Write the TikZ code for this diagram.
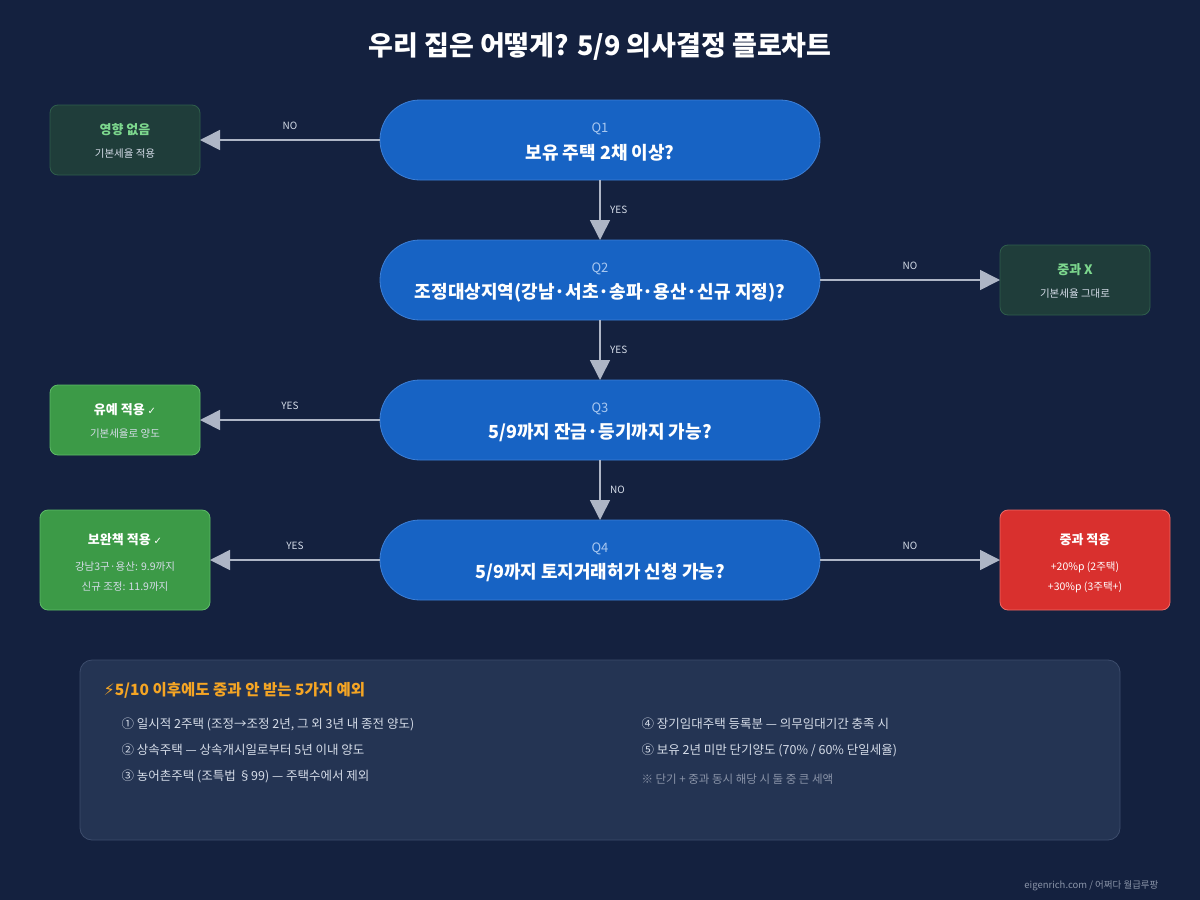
\documentclass[tikz,border=0pt]{standalone}
\usepackage{fontspec}
\setmainfont{Noto Sans CJK KR}
\newfontfamily\symfont{DejaVu Sans}
\usetikzlibrary{arrows.meta}
\definecolor{bgnavy}{HTML}{14213F}
\definecolor{pillblue}{HTML}{1763C4}
\definecolor{pilledge}{HTML}{3D7FD6}
\definecolor{qlabel}{HTML}{A9C8F0}
\definecolor{arrowgray}{HTML}{AEB6C6}
\definecolor{darkgreen}{HTML}{1F3D3A}
\definecolor{darkgreenedge}{HTML}{2F5E4C}
\definecolor{palegreen}{HTML}{7DD88E}
\definecolor{okgreen}{HTML}{3C9A47}
\definecolor{okedge}{HTML}{5DBB67}
\definecolor{alertred}{HTML}{D9302E}
\definecolor{alertedge}{HTML}{EF6A66}
\definecolor{panelfill}{HTML}{243453}
\definecolor{paneledge}{HTML}{3C4C6C}
\definecolor{noteorange}{HTML}{F5A524}
\definecolor{softtext}{HTML}{D5DCE8}
\definecolor{dimtext}{HTML}{8A94A8}

\begin{document}
\begin{tikzpicture}[x=1pt,y=-1pt,
    question/.style = {draw=pilledge, fill=pillblue, rounded corners=40pt, line width=0.8pt},
    flow/.style = {draw=arrowgray, line width=1.6pt, -{Triangle[width=20pt,length=20pt]}},
    tag/.style = {font=\fontsize{10}{12}\selectfont, text=softtext},
    softbox/.style = {draw=darkgreenedge, fill=darkgreen, rounded corners=8pt, line width=0.8pt},
    okbox/.style = {draw=okedge, fill=okgreen, rounded corners=8pt, line width=0.8pt},
    alertbox/.style = {draw=alertedge, fill=alertred, rounded corners=8pt, line width=0.8pt},
    boxhead/.style = {font=\fontsize{13}{15}\selectfont\bfseries, text=white},
    boxline/.style = {font=\fontsize{10.5}{12}\selectfont, text=softtext},
    item/.style = {font=\fontsize{12.5}{14}\selectfont, text=softtext, anchor=west},
  ]
  \fill[bgnavy] (0,0) rectangle (1200,900);
  \useasboundingbox (0,0) rectangle (1200,900);

  \node[font=\fontsize{27}{30}\selectfont\bfseries, text=white] (title) at (600,47) {우리 집은 어떻게? 5/9 의사결정 플로차트};

  % question pills
  \path[question] (380,100) rectangle (820,180);
  \path[question] (380,240) rectangle (820,320);
  \path[question] (380,380) rectangle (820,460);
  \path[question] (380,520) rectangle (820,600);
  \coordinate (q1t) at (600,100); \coordinate (q1b) at (600,180);
  \coordinate (q2t) at (600,240); \coordinate (q2b) at (600,320);
  \coordinate (q3t) at (600,380); \coordinate (q3b) at (600,460);
  \coordinate (q4t) at (600,520);
  \coordinate (q1l) at (380,140); \coordinate (q2r) at (820,280);
  \coordinate (q3l) at (380,420); \coordinate (q4l) at (380,560); \coordinate (q4r) at (820,560);
  \foreach \n/\y/\txt in {Q1/140/{보유 주택 2채 이상?},
                          Q2/280/{조정대상지역(강남·서초·송파·용산·신규 지정)?},
                          Q3/420/{5/9까지 잔금·등기까지 가능?},
                          Q4/560/{5/9까지 토지거래허가 신청 가능?}} {
    \node[font=\fontsize{13}{14}\selectfont, text=qlabel] (\n lab) at (600,\y-11) {\n};
    \node[font=\fontsize{18}{20}\selectfont\bfseries, text=white] (\n txt) at (600,\y+13) {\txt};
  }

  % result boxes
  \path[softbox] (50,105) rectangle (200,175);
  \coordinate (none) at (200,140);
  \node[font=\fontsize{13}{15}\selectfont\bfseries, text=palegreen] (noneh) at (125,130) {영향 없음};
  \node[boxline] (nonel) at (125,154) {기본세율 적용};

  \path[softbox] (1000,245) rectangle (1150,315);
  \coordinate (nox) at (1000,280);
  \node[font=\fontsize{13}{15}\selectfont\bfseries, text=palegreen] (noxh) at (1075,270) {중과 X};
  \node[boxline] (noxl) at (1075,294) {기본세율 그대로};

  \path[okbox] (50,385) rectangle (200,455);
  \coordinate (defer) at (200,420);
  \node[boxhead] (deferh) at (125,410) {유예 적용 {\symfont\mdseries\fontsize{10}{10}\selectfont ✓}};
  \node[boxline] (deferl) at (125,434) {기본세율로 양도};

  \path[okbox] (40,510) rectangle (210,610);
  \coordinate (remedy) at (210,560);
  \node[boxhead] (remedyh) at (125,540) {보완책 적용 {\symfont\mdseries\fontsize{10}{10}\selectfont ✓}};
  \node[boxline] (remedya) at (125,567) {강남3구·용산: 9.9까지};
  \node[boxline] (remedyb) at (125,587) {신규 조정: 11.9까지};

  \path[alertbox] (1000,510) rectangle (1170,610);
  \coordinate (heavy) at (1000,560);
  \node[boxhead] (heavyh) at (1085,540) {중과 적용};
  \node[boxline, text=white] (heavya) at (1085,567) {+20\%p (2주택)};
  \node[boxline, text=white] (heavyb) at (1085,587) {+30\%p (3주택+)};

  % connectors
  \draw[flow] (q1b) -- (q2t) node[tag, midway, right=6pt] {YES};
  \draw[flow] (q2b) -- (q3t) node[tag, midway, right=6pt] {YES};
  \draw[flow] (q3b) -- (q4t) node[tag, midway, right=6pt] {NO};
  \draw[flow] (q1l) -- (none) node[tag, midway, above=6pt] {NO};
  \draw[flow] (q2r) -- (nox) node[tag, midway, above=6pt] {NO};
  \draw[flow] (q3l) -- (defer) node[tag, midway, above=6pt] {YES};
  \draw[flow] (q4l) -- (remedy) node[tag, midway, above=6pt] {YES};
  \draw[flow] (q4r) -- (heavy) node[tag, midway, above=6pt] {NO};

  % exceptions panel
  \path[draw=paneledge, fill=panelfill, rounded corners=12pt, line width=0.8pt] (80,660) rectangle (1120,840);
  \node[anchor=west, font=\fontsize{15.5}{18}\selectfont\bfseries, text=noteorange] (ptitle) at (100,690)
    {{\symfont\fontsize{16}{18}\selectfont ⚡}5/10 이후에도 중과 안 받는 5가지 예외};
  \node[item] (ex1) at (118,724) {① 일시적 2주택 (조정→조정 2년, 그 외 3년 내 종전 양도)};
  \node[item] (ex2) at (118,750) {② 상속주택 — 상속개시일로부터 5년 이내 양도};
  \node[item] (ex3) at (118,776) {③ 농어촌주택 (조특법 §99) — 주택수에서 제외};
  \node[item] (ex4) at (638,724) {④ 장기임대주택 등록분 — 의무임대기간 충족 시};
  \node[item] (ex5) at (638,750) {⑤ 보유 2년 미만 단기양도 (70\% / 60\% 단일세율)};
  \node[item, text=dimtext, font=\fontsize{11.5}{13}\selectfont] (exnote) at (638,779) {※ 단기 + 중과 동시 해당 시 둘 중 큰 세액};

  \node[anchor=east, font=\fontsize{9.5}{11}\selectfont, text=dimtext] (foot) at (1162,886) {eigenrich.com / 어쩌다 월급루팡};
\end{tikzpicture}
\end{document}
